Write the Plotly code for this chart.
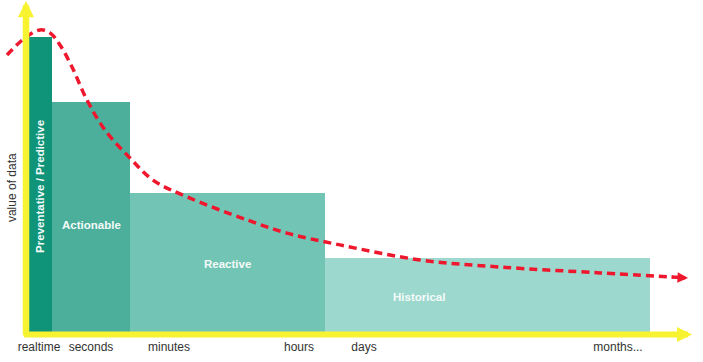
import plotly.graph_objects as go

# ---- data ----
categories = ["Preventative / Predictive", "Actionable", "Reactive", "Historical"]
bar_values = [100, 78, 47, 25]
bar_edges = [29.3, 52, 130, 325, 650]          # time-axis extent of each phase
bar_colors = ["#0f947a", "#4baf9c", "#72c4b4", "#9dd8ce"]

tick_labels = ["realtime", "seconds", "minutes", "hours", "days", "months..."]
tick_positions = [39, 91, 169, 299, 364, 618]

curve_x = [7, 25, 40, 50, 60, 72, 87, 105, 130, 153, 187, 247, 287, 340, 420, 500, 600, 673]
curve_y = [93.9, 99.7, 102.4, 101.4, 97.3, 89.8, 78.6, 68.4, 58.9, 51.4, 45.7, 37.9, 33.4, 29.4, 24.3, 21.9, 19.9, 18.5]

# ---- derived ----
centers = [(a + b) / 2 for a, b in zip(bar_edges[:-1], bar_edges[1:])]
widths = [b - a for a, b in zip(bar_edges[:-1], bar_edges[1:])]

YELLOW = "#f7f330"
RED = "#ee172d"
FONT = "Liberation Sans, Arial, sans-serif"

fig = go.Figure()
fig.add_trace(go.Bar(
    x=centers, y=bar_values, width=widths, base=0,
    marker=dict(color=bar_colors, line=dict(width=0)),
    hoverinfo="skip", showlegend=False,
))
fig.add_trace(go.Scatter(
    x=curve_x, y=curve_y, mode="lines",
    line=dict(color=RED, width=3.5, dash="8px,5px", shape="spline", smoothing=1.0),
    hoverinfo="skip", showlegend=False,
))

annotations = []
# axes arrows
annotations.append(dict(x=26, y=112.2, ax=26, ay=-1.9, xref="x", yref="y", axref="x", ayref="y",
                        text="", showarrow=True, arrowhead=2, arrowwidth=6.5, arrowsize=0.5,
                        arrowcolor=YELLOW))
annotations.append(dict(x=692, y=-1.02, ax=22.5, ay=-1.02, xref="x", yref="y", axref="x", ayref="y",
                        text="", showarrow=True, arrowhead=2, arrowwidth=6, arrowsize=0.5,
                        arrowcolor=YELLOW))
# curve arrow head
annotations.append(dict(x=688, y=18.2, ax=670, ay=18.5, xref="x", yref="y", axref="x", ayref="y",
                        text="", showarrow=True, arrowhead=2, arrowwidth=3.5, arrowsize=0.6,
                        arrowcolor=RED))

label_font = dict(family=FONT, size=11.5, color="#f4fbf9")
label_pos = [(40, 49.1, -90), (91, 36.2, 0), (227, 22.9, 0), (419, 11.7, 0)]
for name, (lx, ly, ang) in zip(categories, label_pos):
    annotations.append(dict(x=lx, y=ly, xref="x", yref="y", text="<b>%s</b>" % name,
                            showarrow=False, textangle=ang, font=label_font))

annotations.append(dict(x=12, y=48.7, xref="x", yref="y", text="value of data", showarrow=False,
                        textangle=-90, font=dict(family=FONT, size=12, color="#333333")))

fig.update_layout(
    width=703, height=362,
    margin=dict(l=0, r=0, t=0, b=24),
    paper_bgcolor="white", plot_bgcolor="white",
    bargap=0,
    xaxis=dict(range=[0, 703], showgrid=False, zeroline=False, showline=False,
               tickvals=tick_positions, ticktext=tick_labels, ticks="",
               tickfont=dict(family=FONT, size=12, color="#333333")),
    yaxis=dict(range=[-2.207, 112.56], showgrid=False, zeroline=False, showline=False,
               showticklabels=False, ticks=""),
    annotations=annotations,
)

fig.write_html("out.html", config={"displayModeBar": False},
               post_script="document.body.style.margin='0px';document.body.style.padding='0px';")
